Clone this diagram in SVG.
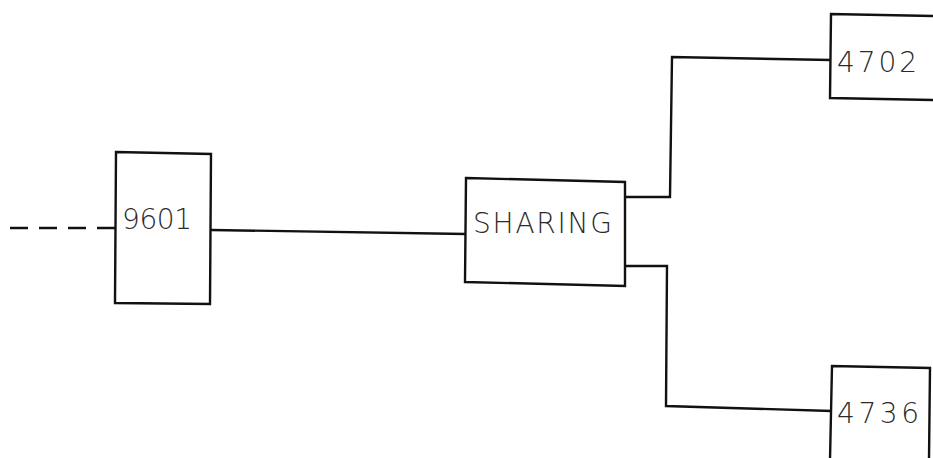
<svg xmlns="http://www.w3.org/2000/svg" width="933" height="458" viewBox="0 0 933 458">
  <style>
    .box { fill: none; stroke: #111; stroke-width: 2.4; }
    .wire { fill: none; stroke: #111; stroke-width: 2.4; }
    .dash { stroke-dasharray: 18 11; }
    .label { font-family: "DejaVu Sans", "Liberation Sans", sans-serif; font-size: 28px; font-weight: 300; fill: #2a2a2a; }
  </style>
  <rect width="933" height="458" fill="#fff"/>

  <g id="connectors">
    <line class="wire dash" x1="10" y1="228" x2="116" y2="228"/>
    <polyline class="wire" points="211,230 466,234"/>
    <polyline class="wire" points="626,197 670,197 672,57 831,60"/>
    <polyline class="wire" points="626,266 667,266 666,406 832,411"/>
  </g>

  <g id="node-9601">
    <path class="box" d="M116,152 L211,154 L210,304 L115,303 Z"/>
    <text class="label" x="122" y="229" textLength="70" lengthAdjust="spacing">9601</text>
  </g>

  <g id="node-sharing">
    <path class="box" d="M466,178 L625,182 L625,286 L465,282 Z"/>
    <text class="label" x="473" y="233" font-size="27" textLength="139" lengthAdjust="spacing">SHARING</text>
  </g>

  <g id="node-4702">
    <path class="box" d="M935,16 L831,14 L830,98 L935,100"/>
    <text class="label" x="837" y="72" font-size="27" textLength="80" lengthAdjust="spacing">4702</text>
  </g>

  <g id="node-4736">
    <path class="box" d="M830,460 L832,366 L930,368 L929,460"/>
    <text class="label" x="837" y="423" font-size="27" textLength="82" lengthAdjust="spacing">4736</text>
  </g>
</svg>
